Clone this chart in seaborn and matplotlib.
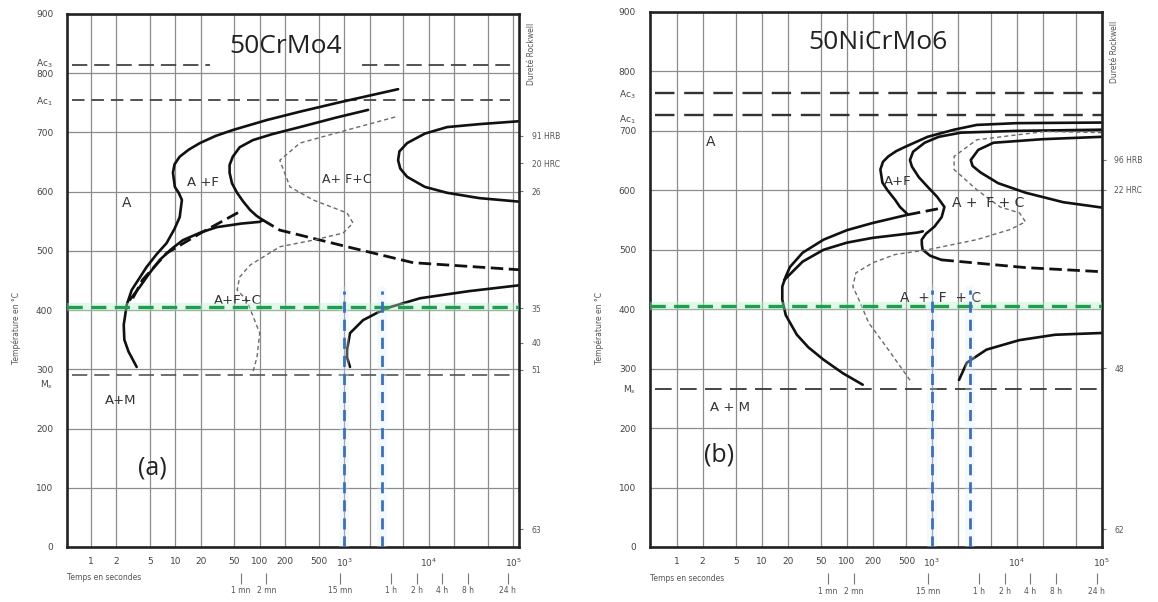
import numpy as np
import pandas as pd
import matplotlib
matplotlib.use("Agg")
import matplotlib.pyplot as plt
import seaborn as sns

# ====================== DATA ======================
# x ticks (time, s)
grid_times = [1, 2, 5, 10, 20, 50, 100, 200, 500, 1e3, 2e3, 5e3, 1e4, 2e4, 5e4, 1e5]
grid_labels = ['1', '2', '5', '10', '20', '50', '100', '200', '500', r'$10^3$', '', '', r'$10^4$', '', '', r'$10^5$']
temp_ticks = [0, 100, 200, 300, 400, 500, 600, 700, 800, 900]
clock_times = [60, 120, 900, 3600, 7200, 14400, 28800, 86400]
clock_labels = ['1 mn', '2 mn', '15 mn', '1 h', '2 h', '4 h', '8 h', '24 h']

# ---- panel (a) 50CrMo4 ----
cr_title = "50CrMo4"
cr_ac3, cr_ac1, cr_ms = 814, 755, 290
cr_ac3_seg1_t = [0.6, 26]
cr_ac3_seg2_t = [1630, 92000]
cr_ref_t = [0.6, 92000]
cr_hard_T = [694, 648, 601, 403, 345, 299, 30]
cr_hard_lab = ['91 HRB', '20 HRC', '26', '35', '40', '51', '63']

cr_af_t = [3.5, 2.8, 2.5, 2.46, 2.67, 3.06, 4.6, 6.0, 7.9, 9.8, 11.3, 12.0, 11.0, 9.9, 9.4, 9.8, 11.3, 14.5, 19.6, 30, 48, 122, 299, 892, 4340]
cr_af_T = [304, 330, 350, 375, 409, 434, 473, 494, 513, 537, 557, 586, 598, 608, 632, 646, 659, 671, 682, 694, 704, 721, 735, 751, 773]
cr_fc_t = [1914, 800, 299, 140, 83, 58, 48, 44, 44, 47, 54, 64, 77, 92, 109]
cr_fc_T = [738, 725, 709, 697, 687, 675, 659, 645, 632, 614, 598, 583, 569, 559, 552]
cr_fc_dash_t = [109, 173, 1080, 6540, 1.2e5]
cr_fc_dash_T = [552, 535, 507, 480, 468]
cr_low_t = [2.9, 3.8, 5.0, 6.6, 9.0, 12.3, 20, 31, 60, 100, 109]
cr_low_T = [417, 439, 463, 485, 503, 518, 531, 540, 546, 549, 552]
cr_mid_t = [3.15, 4.1, 7.9, 20, 63]
cr_mid_T = [420, 451, 496, 530, 569]
cr_thin_t = [4000, 1080, 299, 173, 228, 427, 1080, 1270, 968, 427, 173, 77, 58, 54, 70, 100, 93, 83]
cr_thin_T = [726, 704, 682, 653, 608, 586, 564, 547, 530, 518, 507, 476, 456, 434, 417, 361, 321, 295]
cr_perl_t = [1.2e5, 40000, 16500, 9000, 5550, 4500, 4340, 4600, 5550, 9000, 16500, 40000, 1.2e5]
cr_perl_T = [719, 714, 709, 698, 682, 668, 653, 639, 625, 608, 598, 589, 583]
cr_bain_t = [1170, 1080, 1080, 1170, 1670, 2500, 3490, 7910, 30000, 1.2e5]
cr_bain_T = [304, 320, 333, 361, 383, 396, 405, 420, 432, 442]

# ---- panel (b) 50NiCrMo6 ----
ni_title = "50NiCrMo6"
ni_ac3, ni_ac1, ni_ms = 763, 727, 266
ni_ref_t = [0.55, 1e5]
ni_hard_T = [651, 601, 301, 30]
ni_hard_lab = ['96 HRB', '22 HRC', '48', '62']

ni_af_t = [153, 90, 53, 35, 25.7, 19, 17.3, 17.3, 19, 21.3, 30, 53, 100, 200, 521,
           420, 368, 300, 261, 247, 265, 306, 380, 481, 888, 1820, 3360, 10000, 1e5]
ni_af_T = [273, 292, 315, 336, 357, 390, 416, 438, 455, 471, 495, 517, 533, 545, 559,
           572, 584, 600, 613, 635, 648, 657, 666, 673, 690, 702, 710, 713, 714]
ni_low_t = [18.2, 30, 53, 100, 200, 680, 780]
ni_low_T = [449, 480, 500, 512, 520, 529, 531]
ni_sec_t = [1e5, 10000, 2190, 1200, 819, 600, 550, 580, 700, 887, 1150, 1400, 1300, 1070, 850, 757, 760, 777, 950, 1290]
ni_sec_T = [702, 700, 697, 690, 680, 665, 651, 640, 622, 606, 589, 572, 555, 539, 527, 517, 508, 500, 490, 483]
ni_sec_dash_t = [1290, 2190, 12600, 1e5]
ni_sec_dash_T = [483, 480, 470, 463]
ni_link_t = [521, 1400]
ni_link_T = [559, 571]
ni_perl_t = [1e5, 20000, 5280, 3500, 2860, 3000, 3730, 6000, 12600, 35000, 1e5]
ni_perl_T = [690, 686, 680, 668, 651, 641, 630, 612, 596, 580, 571]
ni_thin_t = [1e5, 21400, 3360, 1820, 1820, 3360, 6330, 10700, 12600, 8300, 3360, 887, 368, 200, 127, 117, 138, 180, 306, 580]
ni_thin_T = [697, 699, 685, 657, 635, 601, 572, 562, 547, 534, 517, 500, 492, 478, 461, 438, 416, 377, 332, 276]
ni_bain_t = [2080, 2570, 4380, 10700, 28000, 1e5]
ni_bain_T = [281, 310, 332, 348, 357, 360]

# overlays (both panels)
hold_T = 405
blue_t = [1000, 2800]
blue_top = 432

# ====================== STYLE ======================
sns.set_theme(style="white")
plt.rcParams['font.family'] = ['DejaVu Sans']
plt.rcParams['lines.scale_dashes'] = False
plt.rcParams['axes.unicode_minus'] = False

BOLD = dict(color='#111111', lw=1.9)
BOLD_DASH = dict(color='#111111', lw=2.0, linestyle=(0, (9, 4)))
THIN_DASH = dict(color='#6a6a6a', lw=1.0, linestyle=(0, (3, 2.2)))


def draw(ax, t, T, **kw):
    df = pd.DataFrame({"time": t, "temp": T})
    sns.lineplot(data=df, x="time", y="temp", ax=ax, sort=False, estimator=None, **kw)


def setup(ax, xlim, extra, hard_T, hard_lab):
    ax.set_xscale('log')
    ax.set_xlim(*xlim)
    ax.set_ylim(0, 900)
    ax.set_xticks(grid_times, labels=grid_labels)
    ax.xaxis.set_minor_locator(matplotlib.ticker.NullLocator())
    ax.set_yticks(temp_ticks)
    ax.set_yticks(extra[0], labels=extra[1], minor=True)
    ax.tick_params(axis='both', which='both', length=0, labelsize=6.5, colors='#444444')
    ax.tick_params(axis='y', which='both', pad=10)
    ax.tick_params(axis='x', pad=7)
    ax.grid(True, which='major', color='#8c8c8c', lw=0.9)
    for s in ax.spines.values():
        s.set_color('#222222')
        s.set_linewidth(1.9)
    ax.set_xlabel('')
    ax.set_ylabel('')
    # clock scale below
    sec = ax.secondary_xaxis(-0.048)
    sec.set_xticks(clock_times, labels=clock_labels)
    sec.xaxis.set_minor_locator(matplotlib.ticker.NullLocator())
    sec.tick_params(length=8, width=0.8, color='#777777', labelsize=5.5, labelcolor='#555555', pad=2)
    sec.spines['bottom'].set_visible(False)
    ax.text(0.0, -0.058, 'Temps en secondes', transform=ax.transAxes, ha='left', va='center',
            fontsize=5.5, color='#555555')
    # hardness scale right
    hy = ax.secondary_yaxis('right')
    hy.set_yticks(hard_T, labels=hard_lab)
    hy.yaxis.set_minor_locator(matplotlib.ticker.NullLocator())
    hy.tick_params(length=3, width=0.8, color='#777777', labelsize=5.5, labelcolor='#555555', pad=6)
    hy.spines['right'].set_visible(False)
    ax.text(1.028, 0.925, 'Dureté Rockwell', transform=ax.transAxes, rotation=90, ha='center',
            va='center', fontsize=5.5, color='#555555')
    ax.text(-0.112, 0.41, 'Température en °C', transform=ax.transAxes, rotation=90, ha='center',
            va='center', fontsize=5.5, color='#555555')


def overlays(ax):
    ax.axhline(hold_T, color='#b8f0c8', lw=6, alpha=0.4, zorder=4)
    ax.axhline(hold_T, color='#1f9e4f', lw=2.4, linestyle=(0, (11, 6)), zorder=5)
    for tb in blue_t:
        draw(ax, [tb, tb], [0, blue_top], color='#d8ecff', lw=7, alpha=0.3, zorder=4)
        draw(ax, [tb, tb], [0, blue_top], color='#3f6fb5', lw=2.0, linestyle=(0, (8, 5)), zorder=5)


fig = plt.figure(figsize=(11.58, 6.02), dpi=100)
fig.patch.set_facecolor('white')
ax1 = fig.add_axes([0.0579, 0.0914, 0.3903, 0.8854])
ax2 = fig.add_axes([0.5613, 0.0914, 0.3903, 0.8887])

# ---------------- panel (a) ----------------
ax = ax1
ax.set_xscale('log')
draw(ax, cr_ac3_seg1_t, [cr_ac3, cr_ac3], color='#444444', lw=1.3, linestyle=(0, (11, 5)))
draw(ax, cr_ac3_seg2_t, [cr_ac3, cr_ac3], color='#444444', lw=1.3, linestyle=(0, (11, 5)))
draw(ax, cr_ref_t, [cr_ac1, cr_ac1], color='#444444', lw=1.3, linestyle=(0, (9, 5)))
draw(ax, cr_ref_t, [cr_ms, cr_ms], color='#555555', lw=1.2, linestyle=(0, (11, 5)))
draw(ax, cr_af_t, cr_af_T, **BOLD)
draw(ax, cr_fc_t, cr_fc_T, **BOLD)
draw(ax, cr_fc_dash_t, cr_fc_dash_T, **BOLD_DASH)
draw(ax, cr_low_t, cr_low_T, **BOLD)
draw(ax, cr_mid_t, cr_mid_T, **BOLD_DASH)
draw(ax, cr_thin_t, cr_thin_T, **THIN_DASH)
draw(ax, cr_perl_t, cr_perl_T, **BOLD)
draw(ax, cr_bain_t, cr_bain_T, **BOLD)
overlays(ax)
setup(ax, (0.525, 1.17e5),
      ([cr_ac3 + 5, cr_ac1, cr_ms - 13], [r'Ac$_3$', r'Ac$_1$', r'M$_s$']),
      cr_hard_T, cr_hard_lab)
ax.text(204, 845, cr_title, fontsize=19, ha='center', va='center', family='Open Sans', color='#222222')
ax.text(2.67, 581, 'A', fontsize=10, ha='center', va='center', color='#333333')
ax.text(21, 616, 'A +F', fontsize=9.5, ha='center', va='center', color='#333333')
ax.text(1080, 620, 'A+ F+C', fontsize=9, ha='center', va='center', color='#333333')
ax.text(55, 417, 'A+F+C', fontsize=9.5, ha='center', va='center', color='#333333', zorder=3)
ax.text(2.27, 248, 'A+M', fontsize=9.5, ha='center', va='center', color='#333333')
ax.text(5.4, 133, '(a)', fontsize=18, ha='center', va='center', family='Open Sans', color='#222222')

# ---------------- panel (b) ----------------
ax = ax2
ax.set_xscale('log')
draw(ax, ni_ref_t, [ni_ac3, ni_ac3], color='#333333', lw=1.7, linestyle=(0, (14, 7)))
draw(ax, ni_ref_t, [ni_ac1, ni_ac1], color='#333333', lw=1.7, linestyle=(0, (14, 7)))
draw(ax, ni_ref_t, [ni_ms, ni_ms], color='#444444', lw=1.4, linestyle=(0, (12, 6)))
draw(ax, ni_af_t, ni_af_T, **BOLD)
draw(ax, ni_low_t, ni_low_T, **BOLD)
draw(ax, ni_sec_t, ni_sec_T, **BOLD)
draw(ax, ni_sec_dash_t, ni_sec_dash_T, **BOLD_DASH)
draw(ax, ni_link_t, ni_link_T, **BOLD_DASH)
draw(ax, ni_perl_t, ni_perl_T, **BOLD)
draw(ax, ni_thin_t, ni_thin_T, **THIN_DASH)
draw(ax, ni_bain_t, ni_bain_T, **BOLD)
overlays(ax)
setup(ax, (0.48, 1.0e5),
      ([ni_ac3, ni_ac1 - 5, ni_ms + 2], [r'Ac$_3$', r'Ac$_1$', r'M$_s$']),
      ni_hard_T, ni_hard_lab)
ax.text(229, 848, ni_title, fontsize=19, ha='center', va='center', family='Open Sans', color='#222222')
ax.text(2.5, 682, 'A', fontsize=10, ha='center', va='center', color='#333333')
ax.text(400, 614, 'A+F', fontsize=9.5, ha='center', va='center', color='#333333')
ax.text(4620, 579, 'A +  F + C', fontsize=10, ha='center', va='center', color='#333333')
ax.text(1250, 419, 'A  +  F  + C', fontsize=10, ha='center', va='center', color='#333333', zorder=3)
ax.text(4.2, 234, 'A + M', fontsize=9.5, ha='center', va='center', color='#333333')
ax.text(3.1, 155, '(b)', fontsize=18, ha='center', va='center', family='Open Sans', color='#222222')

fig.savefig('out.png', dpi=100, facecolor='white')
